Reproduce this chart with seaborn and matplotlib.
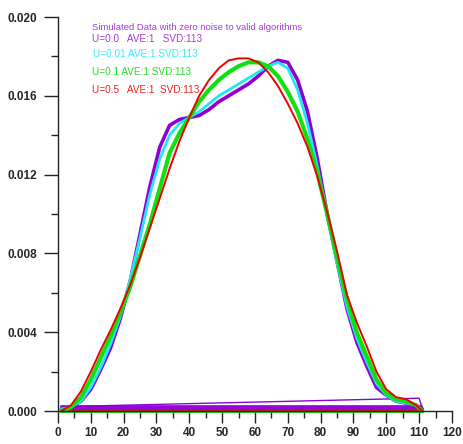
import numpy as np
import pandas as pd
import matplotlib
matplotlib.use("Agg")
import matplotlib.pyplot as plt
import seaborn as sns
from matplotlib.ticker import MultipleLocator, FormatStrFormatter

x = [1, 4, 7, 10, 13, 16, 19, 22, 25, 28, 31, 34, 37, 40, 43, 46, 49, 52, 55,
     58, 61, 64, 67, 70, 73, 76, 79, 82, 85, 88, 91, 94, 97, 100, 103, 106, 109, 111]

u00 = [0.0001, 0.0002, 0.0005, 0.0011, 0.0021, 0.0032, 0.0047, 0.0066, 0.0090, 0.0114,
       0.0134, 0.0145, 0.0148, 0.0149, 0.0150, 0.0153, 0.0157, 0.0160, 0.0163,
       0.0166, 0.0170, 0.0175, 0.0178, 0.0177, 0.0168, 0.0152, 0.0128, 0.0100,
       0.0076, 0.0052, 0.0035, 0.0023, 0.0012, 0.0008, 0.0005, 0.0004, 0.0003, 0.0001]

u001 = [0.0001, 0.0002, 0.0005, 0.0012, 0.0022, 0.0034, 0.0048, 0.0067, 0.0088, 0.0110,
        0.0128, 0.0140, 0.0146, 0.0149, 0.0152, 0.0156, 0.0160, 0.0163, 0.0166,
        0.0169, 0.0172, 0.0175, 0.0177, 0.0174, 0.0163, 0.0146, 0.0124, 0.0099,
        0.0075, 0.0053, 0.0037, 0.0025, 0.0014, 0.0008, 0.0005, 0.0004, 0.0003, 0.0000]

u01 = [0.0000, 0.0002, 0.0007, 0.0016, 0.0027, 0.0038, 0.0050, 0.0063, 0.0079, 0.0095,
       0.0113, 0.0131, 0.0141, 0.0149, 0.0157, 0.0163, 0.0168, 0.0172, 0.0175,
       0.0177, 0.0177, 0.0175, 0.0170, 0.0162, 0.0152, 0.0138, 0.0121, 0.0100,
       0.0078, 0.0057, 0.0040, 0.0028, 0.0016, 0.0009, 0.0006, 0.0005, 0.0003, 0.0000]

u05 = [0.0000, 0.0003, 0.0010, 0.0020, 0.0031, 0.0041, 0.0052, 0.0064, 0.0078, 0.0093,
       0.0108, 0.0123, 0.0137, 0.0149, 0.0160, 0.0168, 0.0174, 0.0178, 0.0179,
       0.0179, 0.0177, 0.0172, 0.0165, 0.0156, 0.0146, 0.0134, 0.0119, 0.0101,
       0.0081, 0.0059, 0.0045, 0.0033, 0.0020, 0.0011, 0.0007, 0.0006, 0.0003, 0.0000]

# pen return traces along the bottom
ret_purple_x = [111, 1]
ret_purple_levels = [0.00025, 0.0002, 0.00015, 0.0001, 0.00005]
ret_diag_x = [111, 110, 1]
ret_diag_y = [0.00012, 0.00065, 0.00022]

labels = ["U=0.0   AVE:1   SVD:113", "U=0.01 AVE:1 SVD:113",
          "U=0.1 AVE:1 SVD:113", "U=0.5   AVE:1  SVD:113"]
title_text = "Simulated Data with zero noise to valid algorithms"

colors = ["#8f00d8", "#1ee8f5", "#10e010", "#f00000"]
text_colors = ["#a63ad8", "#33eeff", "#22e022", "#f02020"]
widths = [2.6, 2.0, 3.0, 1.4]

sns.set_style("ticks")
plt.rcParams["font.family"] = ["Liberation Sans", "DejaVu Sans"]

df = pd.DataFrame({
    "x": x * 4,
    "y": u00 + u001 + u01 + u05,
    "series": sum([[lab] * len(x) for lab in labels], []),
})

fig = plt.figure(figsize=(4.64, 4.44), dpi=100)
ax = fig.add_axes([0.125, 0.0743, 0.849, 0.8874])

# bottom return lines
for lvl in ret_purple_levels:
    ax.plot(ret_purple_x, [lvl, lvl], color=colors[0], lw=1.2, clip_on=False)
ax.plot(ret_diag_x, ret_diag_y, color=colors[0], lw=1.0, clip_on=False)
ax.plot(ret_purple_x, [0.0, 0.0], color=colors[2], lw=2.0, clip_on=False)
ax.plot(ret_purple_x, [0.0, 0.0], color=colors[3], lw=1.2, clip_on=False)

for lab, c, w in zip(labels, colors, widths):
    sub = df[df["series"] == lab]
    sns.lineplot(data=sub, x="x", y="y", color=c, lw=w, ax=ax,
                 sort=False, estimator=None, clip_on=False)

ax.set_xlim(0, 120)
ax.set_ylim(0, 0.020)
ax.xaxis.set_major_locator(MultipleLocator(10))
ax.xaxis.set_minor_locator(MultipleLocator(5))
ax.yaxis.set_major_locator(MultipleLocator(0.004))
ax.yaxis.set_minor_locator(MultipleLocator(0.002))
ax.yaxis.set_major_formatter(FormatStrFormatter("%.3f"))
ax.tick_params(axis="y", which="major", length=10, width=1.0, color="#222222", pad=5)
ax.tick_params(axis="y", which="minor", length=5, width=1.0, color="#222222")
ax.tick_params(axis="x", which="major", length=8.5, width=1.0, color="#222222", pad=3)
ax.tick_params(axis="x", which="minor", length=5, width=1.0, color="#222222")
for t in ax.get_xticklabels() + ax.get_yticklabels():
    t.set_fontweight("bold")
    t.set_fontsize(8.5)
ax.set_xlabel("")
ax.set_ylabel("")
sns.despine(ax=ax)
for s in ["left", "bottom"]:
    ax.spines[s].set_color("#222222")
    ax.spines[s].set_linewidth(1.0)

ax.text(10.3, 0.01948, title_text, color=text_colors[0], fontsize=6.8, va="center")
text_y = [0.01890, 0.01811, 0.01722, 0.01628]
text_x = [10.3, 10.8, 10.3, 10.3]
for lab, c, tx, ty in zip(labels, text_colors, text_x, text_y):
    ax.text(tx, ty, lab, color=c, fontsize=7.2, va="center")

fig.savefig("out.png", dpi=100)
